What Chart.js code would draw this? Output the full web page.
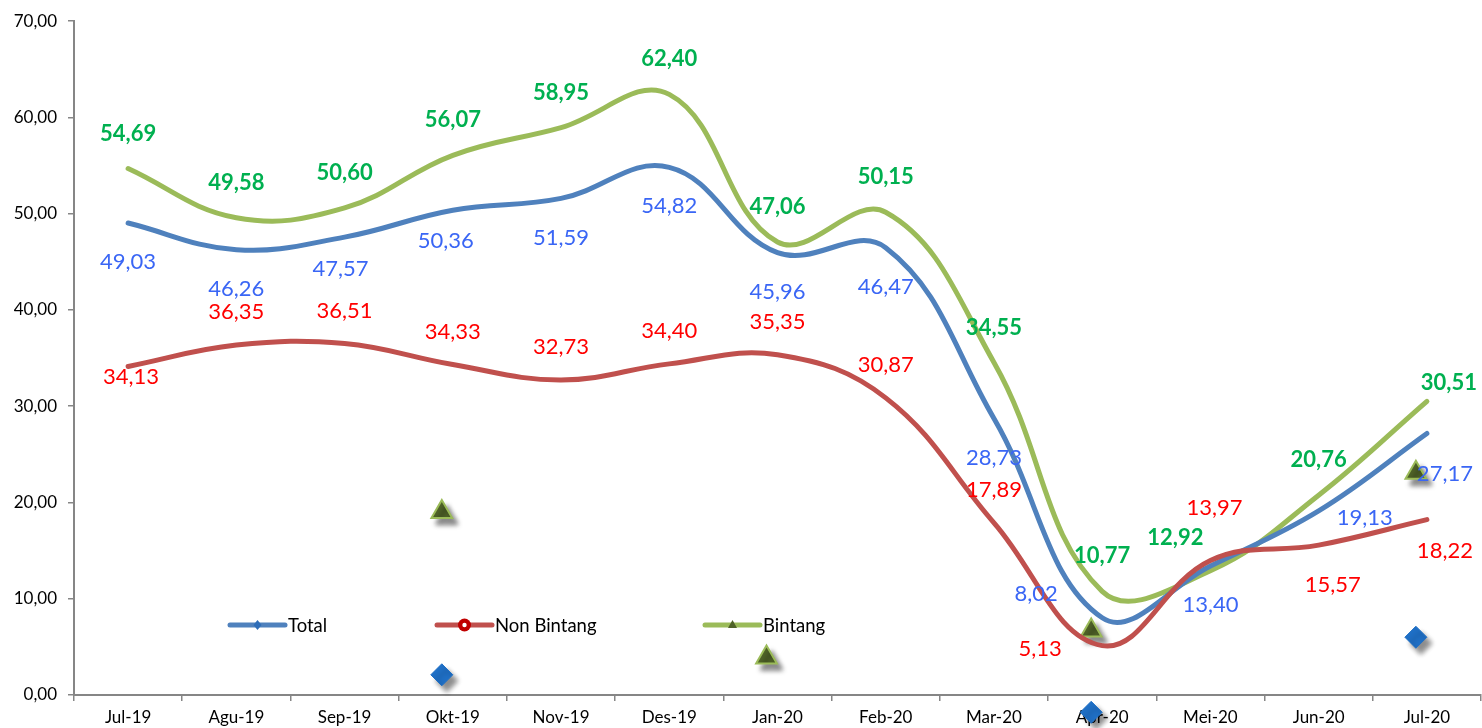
<!DOCTYPE html>
<html>
<head>
<meta charset="utf-8">
<script src="https://cdn.jsdelivr.net/npm/chart.js@4.4.1/dist/chart.umd.min.js"></script>
<style>
  html, body { margin: 0; padding: 0; background: #ffffff; overflow: hidden; width: 1482px; height: 728px; }
  #wrap { position: relative; width: 1482px; height: 728px; overflow: hidden; }
  #c { display: block; position: absolute; left: 0; top: 0; width: 1495px; height: 728px; }
</style>
</head>
<body>
<div id="wrap"><canvas id="c" width="1495" height="728"></canvas></div>
<script>
// ---- data ----
const categories = ['Jul-19','Agu-19','Sep-19','Okt-19','Nov-19','Des-19','Jan-20','Feb-20','Mar-20','Apr-20','Mei-20','Jun-20','Jul-20'];
const totalValues      = [49.03, 46.26, 47.57, 50.36, 51.59, 54.82, 45.96, 46.47, 28.73, 8.02, 13.40, 19.13, 27.17];
const nonBintangValues = [34.13, 36.35, 36.51, 34.33, 32.73, 34.40, 35.35, 30.87, 17.89, 5.13, 13.97, 15.57, 18.22];
const bintangValues    = [54.69, 49.58, 50.60, 56.07, 58.95, 62.40, 47.06, 50.15, 34.55, 10.77, 12.92, 20.76, 30.51];
// stray legend-key markers visible in the picture
const strayTriangleValues = [null, null, null, 19.0, null, null, 3.9, null, null, 6.7, null, null, 23.1];
const strayDiamondValues  = [null, null, null, 2.1, null, null, null, null, null, -1.8, null, null, 6.0];
const yAxisMin = 0, yAxisMax = 70, yAxisStep = 10;
const seriesNames = ['Total', 'Non Bintang', 'Bintang'];

// ---- label placement (style config, pixel offsets from each point) ----
function offsets(def, exceptions) {
  return categories.map((_, i) => exceptions[i] || def);
}
const totalLabelOffsets = offsets([0, 39], {2: [-4, 32], 3: [-7, 31], 9: [-66, -24], 11: [46, 7], 12: [18, 40]});
const nonLabelOffsets   = offsets([0, -33], {0: [3, 10], 9: [-62, 3], 10: [4, -53], 11: [14, 40], 12: [18, 31]});
const bintLabelOffsets  = offsets([0, -35], {10: [-35, -33], 12: [22, -18]});

const FONT = 'Lato, "Open Sans", sans-serif';
const fmt = v => v.toFixed(2).replace('.', ',');

const labelPlugin = {
  id: 'valueLabels',
  afterDatasetsDraw(chart) {
    const ctx = chart.ctx;
    chart.data.datasets.forEach((ds, di) => {
      if (!ds.valueLabel) return;
      const meta = chart.getDatasetMeta(di);
      ctx.save();
      ctx.font = (ds.valueLabel.bold ? 'bold ' : '') + '22px ' + FONT;
      ctx.fillStyle = ds.valueLabel.color;
      ctx.textAlign = 'center';
      ctx.textBaseline = 'middle';
      meta.data.forEach((pt, i) => {
        const v = ds.data[i];
        if (v == null) return;
        const o = ds.valueLabel.offsets[i];
        ctx.fillText(fmt(v), pt.x + o[0], pt.y + o[1]);
      });
      ctx.restore();
    });
  }
};

const shadowPlugin = {
  id: 'markerShadow',
  beforeDatasetDraw(chart, args) {
    const ds = chart.data.datasets[args.index];
    if (!ds.shadowed) return;
    const ctx = chart.ctx;
    ds._savedBottom = chart.chartArea.bottom;
    chart.chartArea.bottom += 40;
    ctx.save();
    ctx.translate(-11, 0);
    ctx.shadowColor = 'rgba(0,0,0,0.45)';
    ctx.shadowBlur = 5;
    ctx.shadowOffsetX = 5;
    ctx.shadowOffsetY = 6;
  },
  afterDatasetDraw(chart, args) {
    const ds = chart.data.datasets[args.index];
    if (!ds.shadowed) return;
    chart.ctx.restore();
    chart.chartArea.bottom = ds._savedBottom;
  }
};

const legendItems = [
  {text: seriesNames[0], color: '#4F81BD', marker: 'diamond', x: 230},
  {text: seriesNames[1], color: '#C0504D', marker: 'circle',  x: 437},
  {text: seriesNames[2], color: '#9BBB59', marker: 'triangle', x: 705}
];
const legendPlugin = {
  id: 'insideLegend',
  afterDraw(chart) {
    const ctx = chart.ctx;
    const y = 625;
    ctx.save();
    legendItems.forEach(it => {
      ctx.strokeStyle = it.color;
      ctx.lineWidth = 5;
      ctx.lineCap = 'round';
      ctx.beginPath();
      ctx.moveTo(it.x, y);
      ctx.lineTo(it.x + 55, y);
      ctx.stroke();
      const mx = it.x + 27.5;
      if (it.marker === 'diamond') {
        ctx.fillStyle = '#2E6DB8';
        ctx.beginPath();
        ctx.moveTo(mx, y - 5); ctx.lineTo(mx + 4, y); ctx.lineTo(mx, y + 5); ctx.lineTo(mx - 4, y);
        ctx.closePath(); ctx.fill();
      } else if (it.marker === 'circle') {
        ctx.fillStyle = '#C00000';
        ctx.beginPath(); ctx.arc(mx, y, 6.5, 0, Math.PI * 2); ctx.fill();
        ctx.fillStyle = '#ffffff';
        ctx.beginPath(); ctx.arc(mx, y, 2.2, 0, Math.PI * 2); ctx.fill();
      } else {
        ctx.fillStyle = '#4F6228';
        ctx.beginPath();
        ctx.moveTo(mx, y - 5); ctx.lineTo(mx + 4.5, y + 3); ctx.lineTo(mx - 4.5, y + 3);
        ctx.closePath(); ctx.fill();
      }
      ctx.fillStyle = '#000000';
      ctx.font = '18.5px ' + FONT;
      ctx.textAlign = 'left';
      ctx.textBaseline = 'middle';
      ctx.fillText(it.text, it.x + 58, y + 1);
    });
    ctx.restore();
  }
};

const lineStyle = (color) => ({
  borderColor: color,
  backgroundColor: color,
  borderWidth: 5,
  borderCapStyle: 'round',
  borderJoinStyle: 'round',
  pointRadius: 0,
  pointHoverRadius: 0,
  tension: 0.4,
  fill: false
});

new Chart(document.getElementById('c'), {
  type: 'line',
  data: {
    labels: categories,
    datasets: [
      Object.assign({label: seriesNames[1], data: nonBintangValues,
        valueLabel: {color: '#FF0000', bold: false, offsets: nonLabelOffsets}}, lineStyle('#C0504D')),
      Object.assign({label: seriesNames[0], data: totalValues,
        valueLabel: {color: '#3A66F5', bold: false, offsets: totalLabelOffsets}}, lineStyle('#4F81BD')),
      Object.assign({label: seriesNames[2], data: bintangValues,
        valueLabel: {color: '#00B050', bold: true, offsets: bintLabelOffsets}}, lineStyle('#9BBB59')),
      {label: 'tri', data: strayTriangleValues, showLine: false, shadowed: true, clip: false,
        pointStyle: 'triangle', pointRadius: 12, pointHoverRadius: 12,
        pointBackgroundColor: '#4F6228', pointBorderColor: '#9BBB59', pointBorderWidth: 2},
      {label: 'dia', data: strayDiamondValues, showLine: false, shadowed: true, clip: false,
        pointStyle: 'rectRot', pointRadius: 11, pointHoverRadius: 11,
        pointBackgroundColor: '#1F6FC5', pointBorderColor: '#1F6FC5', pointBorderWidth: 1}
    ]
  },
  options: {
    responsive: false,
    maintainAspectRatio: false,
    devicePixelRatio: 1,
    animation: false,
    events: [],
    layout: {padding: {top: 19, left: 0, right: 0, bottom: 0}},
    plugins: {legend: {display: false}, tooltip: {enabled: false}},
    scales: {
      x: {
        type: 'category',
        offset: true,
        z: 1,
        grid: {offset: true, drawOnChartArea: false, drawTicks: true, tickLength: 6, color: '#868686', lineWidth: 1.5},
        border: {display: true, color: '#868686', width: 2},
        ticks: {color: '#000000', font: {family: FONT, size: 17}, padding: 6, maxRotation: 0, autoSkip: false},
        afterFit: s => { s.height = 33; }
      },
      y: {
        min: yAxisMin,
        max: yAxisMax,
        grid: {drawOnChartArea: false, drawTicks: true, tickLength: 6, color: '#868686', lineWidth: 1.5},
        border: {display: true, color: '#868686', width: 2},
        ticks: {stepSize: yAxisStep, color: '#000000', font: {family: FONT, size: 17}, padding: 11,
          callback: v => fmt(v)},
        afterFit: s => { s.width = 74; }
      }
    }
  },
  plugins: [shadowPlugin, labelPlugin, legendPlugin]
});
</script>
</body>
</html>
